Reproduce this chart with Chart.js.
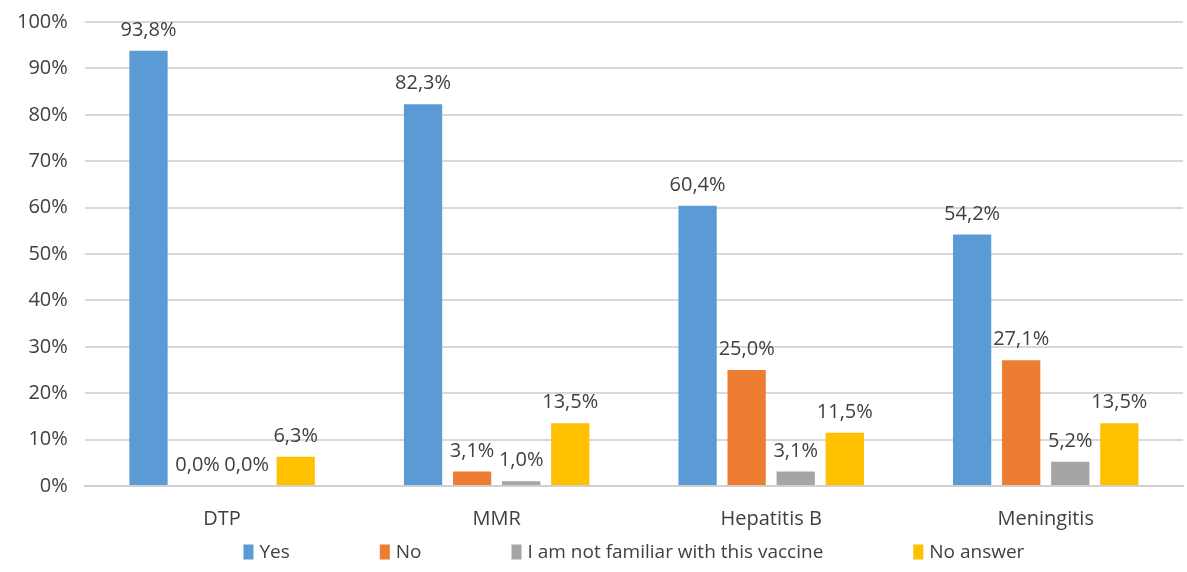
<!DOCTYPE html>
<html>
<head>
<meta charset="utf-8">
<script src="https://cdn.jsdelivr.net/npm/chart.js@4/dist/chart.umd.min.js"></script>
<style>
  html, body { margin: 0; padding: 0; background: #fff; }
  #wrap { width: 1187px; height: 572px; }
</style>
</head>
<body>
<div id="wrap"><canvas id="vaccineChart"></canvas></div>
<script>
let vaccines = ["DTP", "MMR", "Hepatitis B", "Meningitis"];
let yesValues = [93.8, 82.3, 60.4, 54.2];
let noValues = [0.0, 3.1, 25.0, 27.1];
let notFamiliarValues = [0.0, 1.0, 3.1, 5.2];
let noAnswerValues = [6.3, 13.5, 11.5, 13.5];
let yTicks = [0, 10, 20, 30, 40, 50, 60, 70, 80, 90, 100];

let seriesNames = ["Yes", "No", "I am not familiar with this vaccine", "No answer"];
let seriesColors = ["#5B9BD5", "#ED7D31", "#A5A5A5", "#FFC000"];

let fontFamily = "'Open Sans', 'Liberation Sans', sans-serif";
let textColor = "#404040";

// draws the value above every bar, with a decimal comma
let barValuePlugin = {
    id: 'barValues',
    afterDatasetsDraw: function(chart) {
        let ctx = chart.ctx;
        ctx.save();
        ctx.font = "20px " + fontFamily;
        ctx.fillStyle = textColor;
        ctx.textAlign = "center";
        ctx.textBaseline = "alphabetic";
        chart.data.datasets.forEach(function(ds, i) {
            let meta = chart.getDatasetMeta(i);
            meta.data.forEach(function(bar, j) {
                let text = ds.data[j].toFixed(1).replace(".", ",") + "%";
                ctx.fillText(text, bar.x, bar.y - 15);
            });
        });
        ctx.restore();
    }
};

// legend row under the axis, centred on the plot area, wide gaps like the original
let wideLegendPlugin = {
    id: 'wideLegend',
    afterDraw: function(chart) {
        let ctx = chart.ctx;
        let area = chart.chartArea;
        let gap = 90, boxW = 10, boxH = 15, textGap = 6;
        ctx.save();
        ctx.font = "19px " + fontFamily;
        ctx.textBaseline = "middle";
        ctx.textAlign = "left";
        let items = chart.data.datasets.map(ds => ({
            text: ds.label,
            color: ds.backgroundColor,
            w: boxW + textGap + ctx.measureText(ds.label).width
        }));
        let total = items.reduce((s, it) => s + it.w, 0) + gap * (items.length - 1);
        let x = (area.left + area.right) / 2 - total / 2;
        let y = chart.height - 20;
        for (let it of items) {
            ctx.fillStyle = it.color;
            ctx.fillRect(x, y - boxH / 2, boxW, boxH);
            ctx.fillStyle = textColor;
            ctx.fillText(it.text, x + boxW + textGap, y + 1);
            x += it.w + gap;
        }
        ctx.restore();
    }
};

let datasets = [yesValues, noValues, notFamiliarValues, noAnswerValues].map(function(values, i) {
    return {
        label: seriesNames[i],
        data: values,
        backgroundColor: seriesColors[i],
        borderWidth: 0,
        categoryPercentage: 0.715,
        barPercentage: 0.78
    };
});

new Chart(document.getElementById('vaccineChart'), {
    type: 'bar',
    data: { labels: vaccines, datasets: datasets },
    options: {
        responsive: true,
        maintainAspectRatio: false,
        animation: false,
        layout: { padding: { left: 0, right: 4, top: 22, bottom: 20 } },
        scales: {
            x: {
                grid: { display: false, drawTicks: false },
                border: { color: "#d0d0d0", width: 2 },
                ticks: {
                    color: textColor,
                    font: { size: 20, family: fontFamily },
                    padding: 21
                }
            },
            y: {
                min: 0,
                max: 100,
                afterBuildTicks: function(axis) {
                    axis.ticks = yTicks.map(v => ({ value: v }));
                },
                afterFit: function(axis) {
                    axis.paddingTop = 0;
                    axis.paddingBottom = 0;
                },
                grid: { color: "#d9d9d9", lineWidth: 2, drawTicks: false },
                border: { display: false },
                ticks: {
                    color: textColor,
                    font: { size: 20, family: fontFamily },
                    padding: 17,
                    callback: v => v + "%"
                }
            }
        },
        plugins: {
            legend: { display: false },
            tooltip: { enabled: false }
        }
    },
    plugins: [barValuePlugin, wideLegendPlugin]
});
</script>
</body>
</html>
